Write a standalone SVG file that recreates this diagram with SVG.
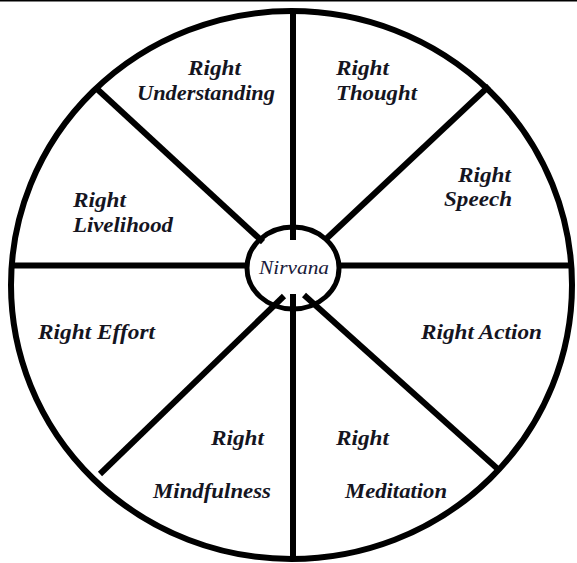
<svg xmlns="http://www.w3.org/2000/svg" width="577" height="563" viewBox="0 0 577 563">
<style>
.ln{stroke:#000;stroke-width:6;fill:none}
.t{font-family:"Liberation Serif",serif;font-style:italic;font-weight:bold;font-size:21px;fill:#15151f}
.n{font-family:"Liberation Serif",serif;font-style:italic;font-size:18px;fill:#1a1a3a}
</style>
<rect width="577" height="563" fill="#fff"/>
<line x1="0" y1="0.8" x2="577" y2="0.8" stroke="#000" stroke-width="1.6"/>
<g id="connectors">
<line class="ln" x1="293" y1="11" x2="293" y2="240"/>
<line class="ln" x1="293" y1="294" x2="293" y2="559"/>
<line class="ln" x1="11" y1="265.5" x2="249" y2="265.5"/>
<line class="ln" x1="337" y1="265.5" x2="572" y2="265.5"/>
<line class="ln" x1="96" y1="88" x2="263" y2="242"/>
<line class="ln" x1="489" y1="86" x2="325" y2="240"/>
<line class="ln" x1="100" y1="474" x2="284" y2="296"/>
<line class="ln" x1="500" y1="471" x2="304" y2="295"/>
</g>
<g id="wheel"><ellipse class="ln" cx="291.5" cy="285" rx="280.5" ry="274" stroke-width="5.5"/></g>
<g id="nirvana"><ellipse cx="293" cy="268" rx="46" ry="41" fill="none" stroke="#000" stroke-width="5"/>
<text class="n" x="294" y="274" text-anchor="middle" textLength="70" lengthAdjust="spacingAndGlyphs">Nirvana</text></g>
<g id="understanding"><text class="t" x="188" y="75" textLength="53" lengthAdjust="spacingAndGlyphs">Right</text>
<text class="t" x="137" y="100" textLength="138" lengthAdjust="spacingAndGlyphs">Understanding</text></g>
<g id="thought"><text class="t" x="336" y="75" textLength="53" lengthAdjust="spacingAndGlyphs">Right</text>
<text class="t" x="336" y="100" textLength="81" lengthAdjust="spacingAndGlyphs">Thought</text></g>
<g id="speech"><text class="t" x="458" y="182" textLength="53" lengthAdjust="spacingAndGlyphs">Right</text>
<text class="t" x="444" y="206" textLength="68" lengthAdjust="spacingAndGlyphs">Speech</text></g>
<g id="action"><text class="t" x="421" y="339" textLength="121" lengthAdjust="spacingAndGlyphs">Right Action</text></g>
<g id="meditation"><text class="t" x="336" y="445" textLength="53" lengthAdjust="spacingAndGlyphs">Right</text>
<text class="t" x="345" y="498" textLength="102" lengthAdjust="spacingAndGlyphs">Meditation</text></g>
<g id="mindfulness"><text class="t" x="211" y="445" textLength="53" lengthAdjust="spacingAndGlyphs">Right</text>
<text class="t" x="153" y="498" textLength="118" lengthAdjust="spacingAndGlyphs">Mindfulness</text></g>
<g id="effort"><text class="t" x="38" y="339" textLength="117" lengthAdjust="spacingAndGlyphs">Right Effort</text></g>
<g id="livelihood"><text class="t" x="73" y="207" textLength="53" lengthAdjust="spacingAndGlyphs">Right</text>
<text class="t" x="73" y="232" textLength="100" lengthAdjust="spacingAndGlyphs">Livelihood</text></g>
</svg>
